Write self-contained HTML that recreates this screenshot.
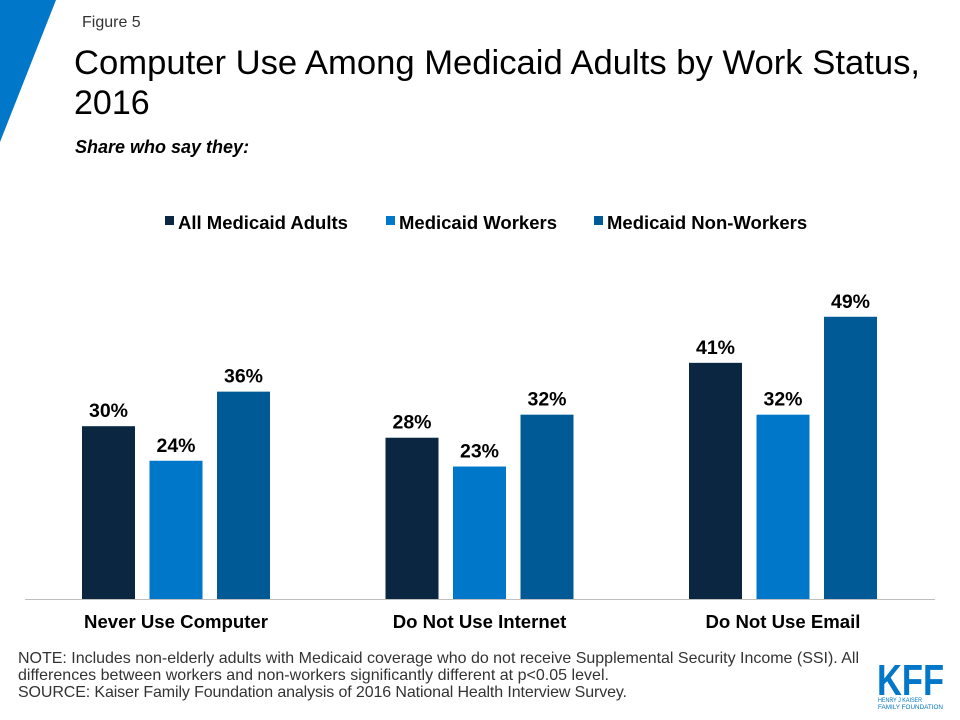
<!DOCTYPE html>
<html><head><meta charset="utf-8"><style>
body{margin:0;width:960px;height:720px;background:#fff;font-family:"Liberation Sans",Arial,sans-serif;position:relative;overflow:hidden}
.abs{position:absolute}
</style></head><body>
<svg class="abs" style="left:0;top:0" width="960" height="720">
<polygon points="0,0 56,0 0,142" fill="#0077c8"/>
<text x="82" y="27" font-size="16" fill="#333">Figure 5</text>
<text x="74" y="74" font-size="34" fill="#000" textLength="846" lengthAdjust="spacingAndGlyphs">Computer Use Among Medicaid Adults by Work Status,</text>
<text x="74" y="114" font-size="34" fill="#000">2016</text>
<text x="75" y="153" font-size="18" font-weight="bold" font-style="italic" fill="#000">Share who say they:</text>
<g id="legend"></g>
<g id="bars"></g>
<line x1="25" y1="599.5" x2="935" y2="599.5" stroke="#bfbfbf" stroke-width="1"/>
<text x="18" y="663" font-size="16" fill="#333" textLength="841" lengthAdjust="spacing">NOTE: Includes non-elderly adults with Medicaid coverage who do not receive Supplemental Security Income (SSI). All</text>
<text x="18" y="680" font-size="16" fill="#333" textLength="591" lengthAdjust="spacing">differences between workers and non-workers significantly different at p&lt;0.05 level.</text>
<text x="18" y="697" font-size="16" fill="#333" textLength="609" lengthAdjust="spacing">SOURCE: Kaiser Family Foundation analysis of 2016 National Health Interview Survey.</text>
<text x="877" y="695" font-size="44" font-weight="bold" fill="#0077c8" textLength="67" lengthAdjust="spacingAndGlyphs">KFF</text>
<text x="878" y="702" font-size="6" fill="#0077c8" textLength="44" lengthAdjust="spacingAndGlyphs">HENRY J KAISER</text>
<text x="878" y="709" font-size="6" fill="#0077c8" textLength="65" lengthAdjust="spacingAndGlyphs">FAMILY FOUNDATION</text>
</svg>
<script>
const categories=["Never Use Computer","Do Not Use Internet","Do Not Use Email"];
const seriesNames=["All Medicaid Adults","Medicaid Workers","Medicaid Non-Workers"];
const allAdults=[30,28,41];
const workers=[24,23,32];
const nonWorkers=[36,32,49];
const colors=["#0b2641","#0077c8","#005a96"];
const NS="http://www.w3.org/2000/svg";
const base=599, pxPer=5.76;
function y(v){return base-v*pxPer;}
function gx(i){return 176+i*303.5;}
const series=[allAdults,workers,nonWorkers];
const bars=document.getElementById('bars');
categories.forEach((c,i)=>{
  series.forEach((s,j)=>{
    const x=gx(i)+(j-1)*67.5-26.5;
    const r=document.createElementNS(NS,'rect');
    r.setAttribute('x',x);r.setAttribute('y',y(s[i]));r.setAttribute('width',53);r.setAttribute('height',base-y(s[i]));r.setAttribute('fill',colors[j]);
    
    
    bars.appendChild(r);
    const t=document.createElementNS(NS,'text');
    t.setAttribute('x',x+26.5);t.setAttribute('y',y(s[i])-9);t.setAttribute('text-anchor','middle');t.setAttribute('font-size','19.5');t.setAttribute('font-weight','bold');
    t.textContent=s[i]+'%';
    
    
    bars.appendChild(t);
  });
  const l=document.createElementNS(NS,'text');
  l.setAttribute('x',gx(i));l.setAttribute('y',628);l.setAttribute('text-anchor','middle');l.setAttribute('font-size','18.6');l.setAttribute('font-weight','bold');
  l.textContent=c;
  
  
  bars.appendChild(l);
});
const lg=document.getElementById('legend');
const lx=[165,386,594];
seriesNames.forEach((n,j)=>{
  const r=document.createElementNS(NS,'rect');
  r.setAttribute('x',lx[j]);r.setAttribute('y',216);r.setAttribute('width',9);r.setAttribute('height',9);r.setAttribute('fill',colors[j]);
  
  
  lg.appendChild(r);
  const t=document.createElementNS(NS,'text');
  t.setAttribute('x',lx[j]+13);t.setAttribute('y',229);t.setAttribute('font-size','18.5');t.setAttribute('font-weight','bold');
  t.textContent=n;
  
  
  lg.appendChild(t);
});
</script>
</body></html>
